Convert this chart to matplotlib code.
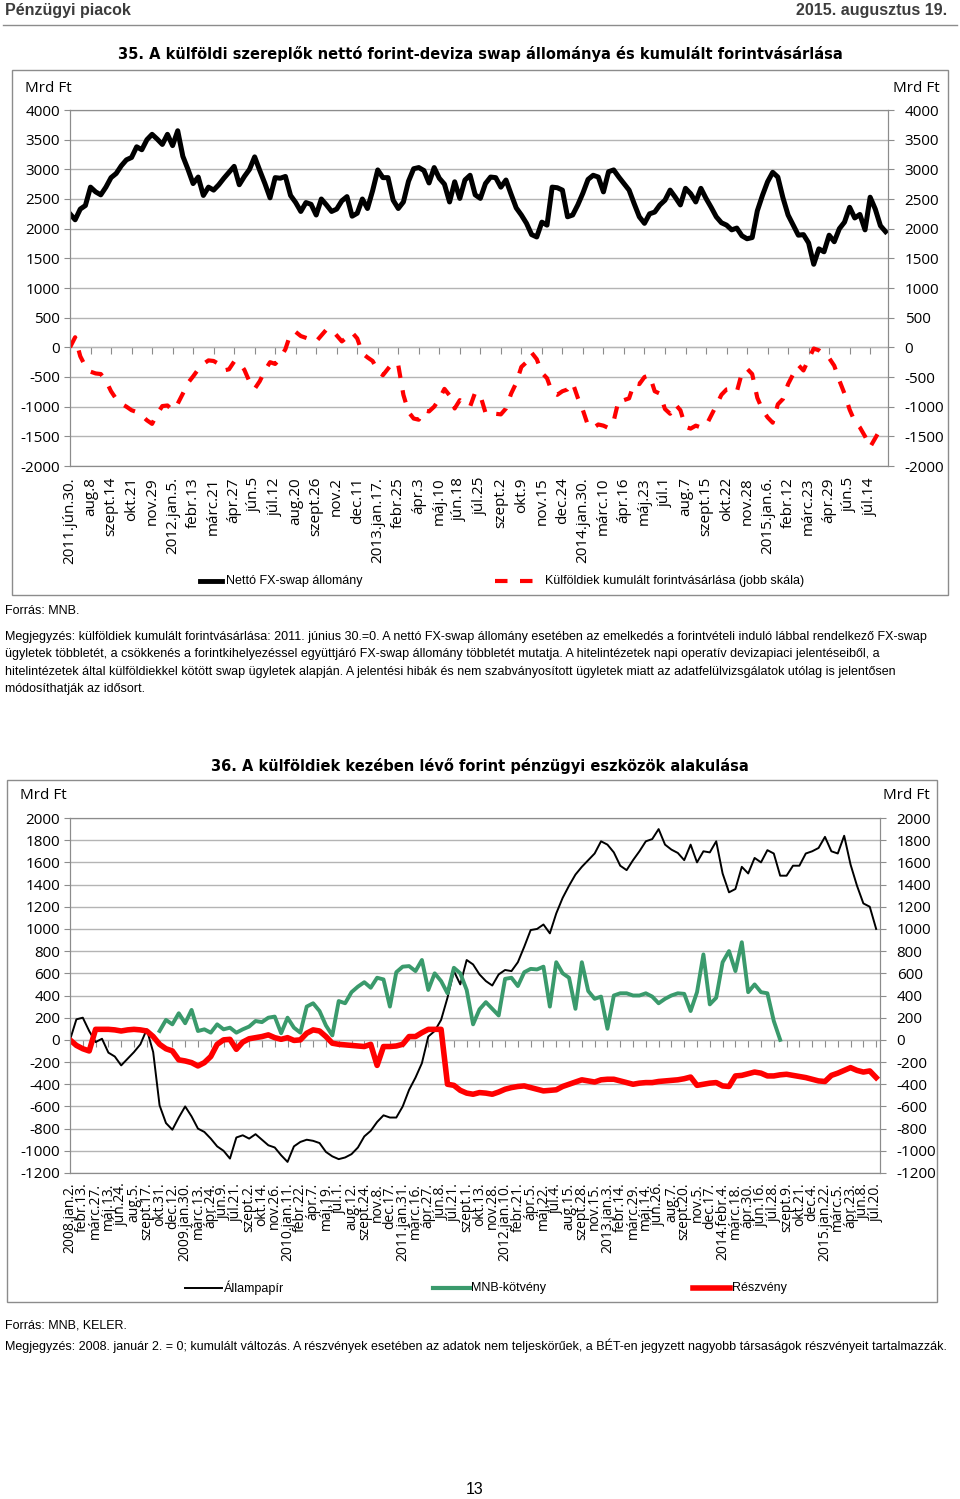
import matplotlib
matplotlib.use("Agg")
import matplotlib.pyplot as plt
import numpy as np
from matplotlib.lines import Line2D
from matplotlib.patches import Rectangle

plt.rcParams['font.family'] = ['Open Sans', 'DejaVu Sans']
plt.rcParams['axes.unicode_minus'] = False
NARROW = ['Liberation Sans', 'DejaVu Sans']

# ---- chart 35 data (one value every quarter label step) ----
swap_labels = ['2011.jún.30.', 'aug.8', 'szept.14', 'okt.21', 'nov.29', '2012.jan.5.',
               'febr.13', 'márc.21', 'ápr.27', 'jún.5', 'júl.12', 'aug.20', 'szept.26',
               'nov.2', 'dec.11', '2013.jan.17.', 'febr.25', 'ápr.3', 'máj.10', 'jún.18',
               'júl.25', 'szept.2', 'okt.9', 'nov.15', 'dec.24', '2014.jan.30.', 'márc.10',
               'ápr.16', 'máj.23', 'júl.1', 'aug.7', 'szept.15', 'okt.22', 'nov.28',
               '2015.jan.6.', 'febr.12', 'márc.23', 'ápr.29', 'jún.5', 'júl.14']

net_swap = [2250, 2150, 2330, 2390, 2700, 2620, 2570, 2700, 2860, 2930, 3060, 3160,
            3200, 3380, 3330, 3500, 3590, 3510, 3420, 3590, 3400, 3650, 3220, 3000,
            2760, 2870, 2560, 2700, 2650, 2740, 2850, 2950, 3050, 2740, 2880, 3000,
            3210, 2980, 2760, 2520, 2860, 2850, 2880, 2560, 2440, 2290, 2440, 2410,
            2230, 2500, 2400, 2290, 2330, 2470, 2540, 2210, 2260, 2500, 2340, 2640,
            2990, 2860, 2860, 2480, 2340, 2450, 2800, 3010, 3030, 2980, 2770, 3030,
            2850, 2750, 2450, 2790, 2510, 2820, 2900, 2570, 2510, 2760, 2870, 2860,
            2700, 2820, 2580, 2350, 2230, 2090, 1900, 1860, 2110, 2060, 2700, 2690,
            2650, 2200, 2230, 2400, 2600, 2830, 2900, 2870, 2620, 2960, 2990, 2870,
            2760, 2650, 2420, 2200, 2090, 2250, 2280, 2400, 2480, 2650, 2530, 2400,
            2680, 2590, 2450, 2680, 2510, 2360, 2200, 2100, 2060, 1980, 2010, 1880,
            1830, 1850, 2300, 2560, 2790, 2950, 2870, 2520, 2230, 2060, 1890, 1900,
            1760, 1400, 1660, 1610, 1890, 1780, 2000, 2110, 2360, 2180, 2240, 1980,
            2530, 2330, 2050, 1950]

cum_buy = [0, 170, -150, -320, -410, -440, -450, -560, -740, -870, -950, -1000,
           -1060, -1090, -1150, -1230, -1290, -1120, -990, -980, -1060, -950, -780, -600,
           -490, -370, -280, -220, -230, -280, -390, -370, -240, -250, -380, -580,
           -700, -570, -390, -250, -280, -180, -30, 230, 260, 190, 160, 130,
           100, 200, 300, 300, 200, 100, 170, 250, 150, -100, -170, -230,
           -390, -470, -360, -250, -300, -800, -1090, -1200, -1220, -1060, -1080, -1000,
           -870, -700, -810, -1030, -890, -960, -1000, -760, -810, -1100, -1150, -1120,
           -1130, -1030, -780, -600, -330, -250, -90, -200, -430, -520, -760, -800,
           -740, -710, -600, -850, -1060, -1320, -1360, -1300, -1320, -1360, -1240, -880,
           -890, -860, -600, -620, -500, -470, -740, -780, -1040, -1120, -960, -1060,
           -1340, -1370, -1320, -1350, -1320, -1150, -980, -800, -710, -700, -750, -430,
           -360, -450, -850, -1050, -1180, -1270, -960, -870, -620, -450, -300, -390,
           -200, -20, -50, -120, -180, -310, -560, -780, -1050, -1250, -1350, -1500,
           -1680, -1530, -1380, -1400]

# ---- chart 36 data (one value every half label step) ----
asset_labels = ['2008.jan.2.', 'febr.13.', 'márc.27.', 'máj.13.', 'jún.24.', 'aug.5.',
                'szept.17.', 'okt.31.', 'dec.12.', '2009.jan.30.', 'márc.13.', 'ápr.24.',
                'jún.9.', 'júl.21.', 'szept.2.', 'okt.14.', 'nov.26.', '2010.jan.11.',
                'febr.22.', 'ápr.7.', 'máj.19.', 'júl.1.', 'aug.12.', 'szept.24.', 'nov.8.',
                'dec.17.', '2011.jan.31.', 'márc.16.', 'ápr.27.', 'jún.8.', 'júl.21.',
                'szept.1.', 'okt.13.', 'nov.28.', '2012.jan.10.', 'febr.21.', 'ápr.5.',
                'máj.22.', 'júl.4.', 'aug.15.', 'szept.28.', 'nov.15.', '2013.jan.3.',
                'febr.14.', 'márc.29.', 'máj.14.', 'jún.26.', 'aug.7.', 'szept.20.',
                'nov.5.', 'dec.17.', '2014.febr.4.', 'márc.18.', 'ápr.30.', 'jún.16.',
                'júl.28.', 'szept.9.', 'okt.21.', 'dec.4.', '2015.jan.22.', 'márc.5.',
                'ápr.23.', 'jún.8.', 'júl.20.']

gov_bonds = [0, 185, 200, 80, -20, 10, -115, -150, -230, -170, -110, -40, 95, -110,
             -590, -750, -810, -700, -600, -690, -800, -830, -890, -960, -1000, -1070,
             -880, -860, -890, -850, -900, -950, -970, -1040, -1100, -960, -920, -900,
             -910, -930, -1010, -1050, -1075, -1060, -1030, -970, -870, -820, -740, -680,
             -700, -700, -600, -450, -340, -210, 30, 80, 180, 380, 620, 500, 720, 680,
             590, 530, 490, 590, 630, 620, 700, 840, 990, 1000, 1040, 960, 1140, 1280,
             1390, 1490, 1560, 1620, 1680, 1790, 1760, 1690, 1570, 1530, 1620, 1700,
             1790, 1810, 1900, 1760, 1715, 1685, 1620, 1760, 1600, 1700, 1690, 1790,
             1500, 1330, 1360, 1560, 1500, 1640, 1600, 1710, 1680, 1480, 1480, 1570,
             1570, 1680, 1700, 1730, 1830, 1700, 1680, 1840, 1580, 1390, 1230, 1200, 1000]

nan = float('nan')
mnb_bills = [nan] * 14 + [
    80, 180, 140, 240, 150, 270, 80, 95, 65, 140, 95, 110, 65, 95, 120, 170,
    160, 200, 210, 60, 200, 110, 65, 300, 330, 260, 130, 40, 350, 330, 430, 480,
    520, 470, 560, 545, 300, 610, 660, 665, 620, 720, 450, 600, 530, 420, 650, 600,
    450, 140, 275, 340, 280, 220, 550, 560, 485, 610, 640, 635, 660, 300, 700, 600,
    560, 280, 700, 440, 370, 390, 100, 400, 420, 420, 400, 400, 420, 390, 330, 370,
    400, 420, 415, 260, 430, 770, 320, 380, 700, 800, 620, 880, 430, 500, 430, 420,
    170, 0] + [nan] * 15

shares = [0, -50, -80, -100, 95, 95, 95, 90, 80, 90, 95, 90, 80, 30, -40, -80,
          -100, -180, -190, -205, -235, -205, -150, -40, 0, 5, -85, -20, 10, 20, 30, 45,
          20, 5, 20, -5, 0, 60, 90, 80, 30, -30, -40, -45, -50, -55, -60, -40,
          -230, -60, -60, -55, -40, 30, 30, 65, 95, 95, 95, -400, -410, -455, -480, -490,
          -475, -480, -490, -470, -445, -430, -420, -415, -430, -445, -460, -455, -450, -420,
          -400, -380, -360, -370, -380, -360, -355, -355, -370, -385, -400, -390, -385, -385,
          -375, -370, -365, -360, -350, -335, -410, -400, -390, -385, -415, -420, -325, -320,
          -305, -290, -300, -325, -325, -315, -310, -320, -330, -340, -355, -370, -375, -320,
          -300, -275, -250, -275, -290, -280, -340]

W, H = 960, 1499
fig = plt.figure(figsize=(W / 100, H / 100), dpi=100)


def fx(x):
    return x / W


def fy(y):
    return 1 - y / H


def ftext(x, y, s, **kw):
    kw.setdefault('va', 'center')
    fig.text(fx(x), fy(y), s, **kw)


def fline(x0, x1, y, **kw):
    fig.add_artist(Line2D([fx(x0), fx(x1)], [fy(y), fy(y)], transform=fig.transFigure, **kw))


def fbox(x0, y0, x1, y1):
    fig.add_artist(Rectangle((fx(x0), fy(y1)), fx(x1) - fx(x0), fy(y0) - fy(y1),
                             transform=fig.transFigure, fill=False, ec='#8c8c8c', lw=1))


GRID = '#b4b4b4'
SPINE = '#8c8c8c'


def style_axes(ax, axr, lo, hi, step, zero_pos, nlab, labels, xsize, xpad):
    for a in (ax, axr):
        a.set_ylim(lo, hi)
        a.set_yticks(np.arange(lo, hi + 1, step))
        for s in a.spines.values():
            s.set_color(SPINE)
    ax.yaxis.grid(True, color=GRID, lw=1)
    ax.set_axisbelow(True)
    ax.tick_params(axis='y', length=4, color=SPINE, labelsize=11, pad=3)
    axr.tick_params(axis='y', length=4, color=SPINE, labelsize=11, pad=8)
    ax.set_xticks(np.arange(nlab))
    ax.set_xticklabels(labels, rotation=90, fontsize=xsize)
    ax.tick_params(axis='x', length=0, pad=xpad)
    sec = ax.secondary_xaxis(zero_pos)
    sec.set_xticks(np.arange(nlab))
    sec.tick_params(axis='x', length=5, color=SPINE, labelbottom=False, labeltop=False)
    for s in sec.spines.values():
        s.set_color(SPINE)


# ---- header ----
ftext(5, 11, 'Pénzügyi piacok', fontsize=11.5, fontweight='bold', color='#3c3c3c',
      family=['Liberation Sans', 'DejaVu Sans'])
ftext(947, 11, '2015. augusztus 19.', fontsize=11.5, fontweight='bold', color='#3c3c3c',
      ha='right', family=['Liberation Sans', 'DejaVu Sans'])
fline(3, 957, 25, color='#8c8c8c', lw=1)

# ---- chart 35 ----
ftext(480, 54, '35. A külföldi szereplők nettó forint-deviza swap állománya és kumulált forintvásárlása',
      fontsize=10.5, fontweight='bold', ha='center', family=['DejaVu Sans'])
fbox(12, 70, 948, 595)
ftext(25, 88, 'Mrd Ft', fontsize=11)
ftext(893, 88, 'Mrd Ft', fontsize=11)

ax1 = fig.add_axes([fx(70), fy(466), fx(888) - fx(70), fy(110) - fy(466)])
ax1r = ax1.twinx()
k1 = np.arange(len(net_swap)) * 0.25
ax1.plot(k1, net_swap, color='black', lw=3.6, solid_joinstyle='round')
ax1r.plot(k1, cum_buy, color='#ff0000', lw=3, dashes=(3, 3))
ax1.set_xlim(0, 39.87)
style_axes(ax1, ax1r, -2000, 4000, 500, 2000 / 6000, len(swap_labels), swap_labels, 11, 8)

fline(200, 222, 581, color='black', lw=3.5)
ftext(226, 581, 'Nettó FX-swap állomány', fontsize=9, family=NARROW)
fig.add_artist(Line2D([fx(495), fx(535)], [fy(581), fy(581)], transform=fig.transFigure,
                      color='#ff0000', lw=3, dashes=(3, 3)))
ftext(545, 581, 'Külföldiek kumulált forintvásárlása (jobb skála)', fontsize=9, family=NARROW)

ftext(5, 611, 'Forrás: MNB.', fontsize=9, family=NARROW)
notes35 = ['Megjegyzés: külföldiek kumulált forintvásárlása: 2011. június 30.=0. A nettó FX-swap állomány esetében az emelkedés a forintvételi induló lábbal rendelkező FX-swap',
           'ügyletek többletét, a csökkenés a forintkihelyezéssel együttjáró FX-swap állomány többletét mutatja. A hitelintézetek napi operatív devizapiaci jelentéseiből, a',
           'hitelintézetek által külföldiekkel kötött swap ügyletek alapján. A jelentési hibák és nem szabványosított ügyletek miatt az adatfelülvizsgálatok utólag is jelentősen',
           'módosíthatják az idősort.']
for i, line in enumerate(notes35):
    ftext(5, 637 + i * 17.3, line, fontsize=9, family=NARROW)

# ---- chart 36 ----
ftext(480, 766, '36. A külföldiek kezében lévő forint pénzügyi eszközök alakulása',
      fontsize=10.5, fontweight='bold', ha='center', family=['DejaVu Sans'])
fbox(7, 780, 937, 1302)
ftext(20, 796, 'Mrd Ft', fontsize=11)
ftext(883, 796, 'Mrd Ft', fontsize=11)

ax2 = fig.add_axes([fx(70), fy(1173), fx(880) - fx(70), fy(818) - fy(1173)])
ax2r = ax2.twinx()
k2 = np.arange(len(gov_bonds)) * 0.5
ax2.plot(k2, gov_bonds, color='black', lw=1.4)
ax2.plot(k2, mnb_bills, color='#3a9a6c', lw=2.8)
ax2.plot(k2, shares, color='#ff0000', lw=4)
ax2.set_xlim(0, 63.3)
style_axes(ax2, ax2r, -1200, 2000, 200, 1200 / 3200, len(asset_labels), asset_labels, 10, 7)

fline(185, 222, 1288, color='black', lw=1.4)
ftext(224, 1288, 'Állampapír', fontsize=9, family=NARROW)
fline(433, 470, 1288, color='#3a9a6c', lw=3)
ftext(471, 1288, 'MNB-kötvény', fontsize=9, family=NARROW)
fline(693, 730, 1288, color='#ff0000', lw=4)
ftext(732, 1288, 'Részvény', fontsize=9, family=NARROW)

ftext(5, 1325, 'Forrás: MNB, KELER.', fontsize=9, family=NARROW)
ftext(5, 1346, 'Megjegyzés: 2008. január 2. = 0; kumulált változás. A részvények esetében az adatok nem teljeskörűek, a BÉT-en jegyzett nagyobb társaságok részvényeit tartalmazzák.',
      fontsize=9, family=NARROW)

ftext(475, 1490, '13', fontsize=11.5, ha='center', family=['Liberation Sans', 'DejaVu Sans'])

fig.savefig('out.png', dpi=100)
